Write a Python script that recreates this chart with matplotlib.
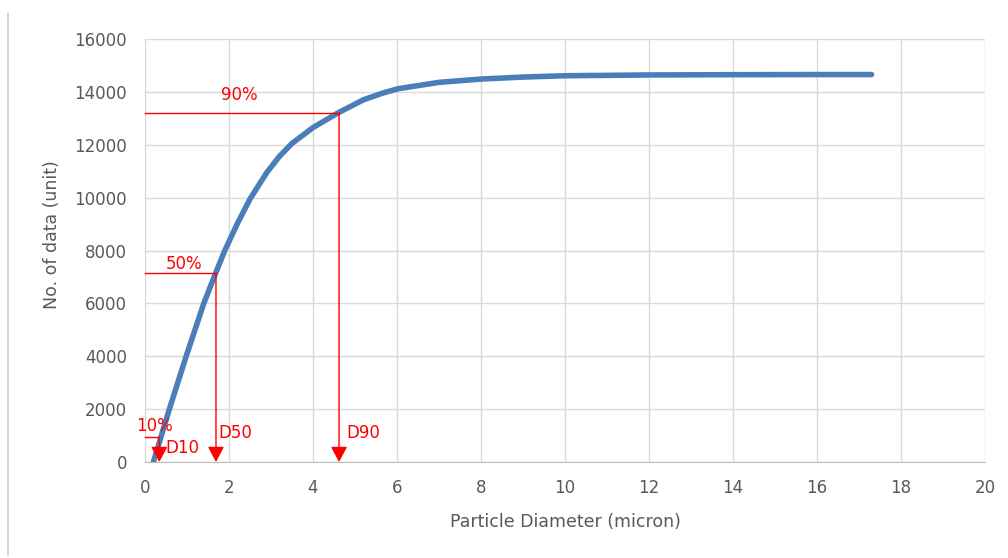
import matplotlib
matplotlib.use("Agg")
import matplotlib.pyplot as plt
from matplotlib.lines import Line2D

# Cumulative particle count vs particle diameter
diameter = [0.2, 0.58, 0.98, 1.4, 1.68, 1.9, 2.2, 2.5, 2.9, 3.2, 3.5, 4.0, 4.6,
            5.2, 5.67, 6.03, 7.0, 8.0, 9.0, 10.0, 12.0, 14.0, 16.0, 17.3]
count = [0, 2000, 4000, 6000, 7137, 8000, 9020, 9950, 10950, 11560, 12050, 12650, 13210,
         13700, 13960, 14120, 14360, 14485, 14560, 14610, 14640, 14650, 14655, 14655]

# Percentile markers
pct_labels = ["10%", "50%", "90%"]
d_labels = ["D10", "D50", "D90"]
d_values = [0.34, 1.69, 4.62]
d_counts = [934, 7137, 13210]

x_ticks = list(range(0, 21, 2))
y_ticks = list(range(0, 16001, 2000))

GRAY = "#595959"
RED = "#ff0000"

plt.rcParams["font.family"] = ["DejaVu Sans"]

fig = plt.figure(figsize=(10.08, 5.58), dpi=100)
ax = fig.add_axes([145 / 1008, 1 - 462 / 558, 840 / 1008, 423 / 558])

ax.set_xlim(0, 20)
ax.set_ylim(0, 16000)
ax.set_xticks(x_ticks)
ax.set_yticks(y_ticks)
ax.set_xticklabels([str(v) for v in x_ticks])
ax.set_yticklabels([str(v) for v in y_ticks])
ax.tick_params(axis="both", length=0, labelsize=12, colors=GRAY)
ax.tick_params(axis="y", pad=13)
ax.tick_params(axis="x", pad=12)
ax.grid(True, color="#d9d9d9", linewidth=1.0)
ax.set_axisbelow(True)
for side in ["top", "right"]:
    ax.spines[side].set_visible(False)
ax.spines["left"].set_color("#d9d9d9")
ax.spines["bottom"].set_color("#bfbfbf")

ax.plot(diameter, count, color="#4a7ebb", linewidth=4.0, solid_capstyle="round",
        solid_joinstyle="round", zorder=3)

# Percentile guide lines and arrows
for d, c in zip(d_values, d_counts):
    ax.plot([0, d], [c, c], color=RED, linewidth=1.0, zorder=4, clip_on=False)
    ax.annotate("", xy=(d, 0), xytext=(d, c),
                arrowprops=dict(arrowstyle="-|>,head_length=0.47,head_width=0.25",
                                color=RED, lw=1.0, mutation_scale=20,
                                shrinkA=0, shrinkB=0),
                zorder=4)

# Percent labels above the horizontal guides
label_kw = dict(color=RED, fontsize=12, ha="left", va="baseline", zorder=5)
ax.text(-0.21, 1172, pct_labels[0], **label_kw)
ax.text(0.50, 7311, pct_labels[1], **label_kw)
ax.text(1.80, 13691, pct_labels[2], **label_kw)

# D labels beside the arrows
ax.text(0.49, 352, d_labels[0], **label_kw)
ax.text(1.74, 919, d_labels[1], **label_kw)
ax.text(4.80, 919, d_labels[2], **label_kw)

ax.set_xlabel("Particle Diameter (micron)", fontsize=12.5, color=GRAY)
ax.set_ylabel("No. of data (unit)", fontsize=12.5, color=GRAY)
ax.xaxis.label.set_va("center")
ax.yaxis.label.set_va("center")
ax.xaxis.set_label_coords(0.5, (462 - 522) / 423)
ax.yaxis.set_label_coords((52 - 145) / 840, (462 - 235) / 423)

# Thin border line at the left edge of the canvas
fig.add_artist(Line2D([8 / 1008, 8 / 1008], [1 - 555 / 558, 1 - 14 / 558],
                      color="#d4d4d4", linewidth=1.5))

fig.savefig("out.png", dpi=100)
